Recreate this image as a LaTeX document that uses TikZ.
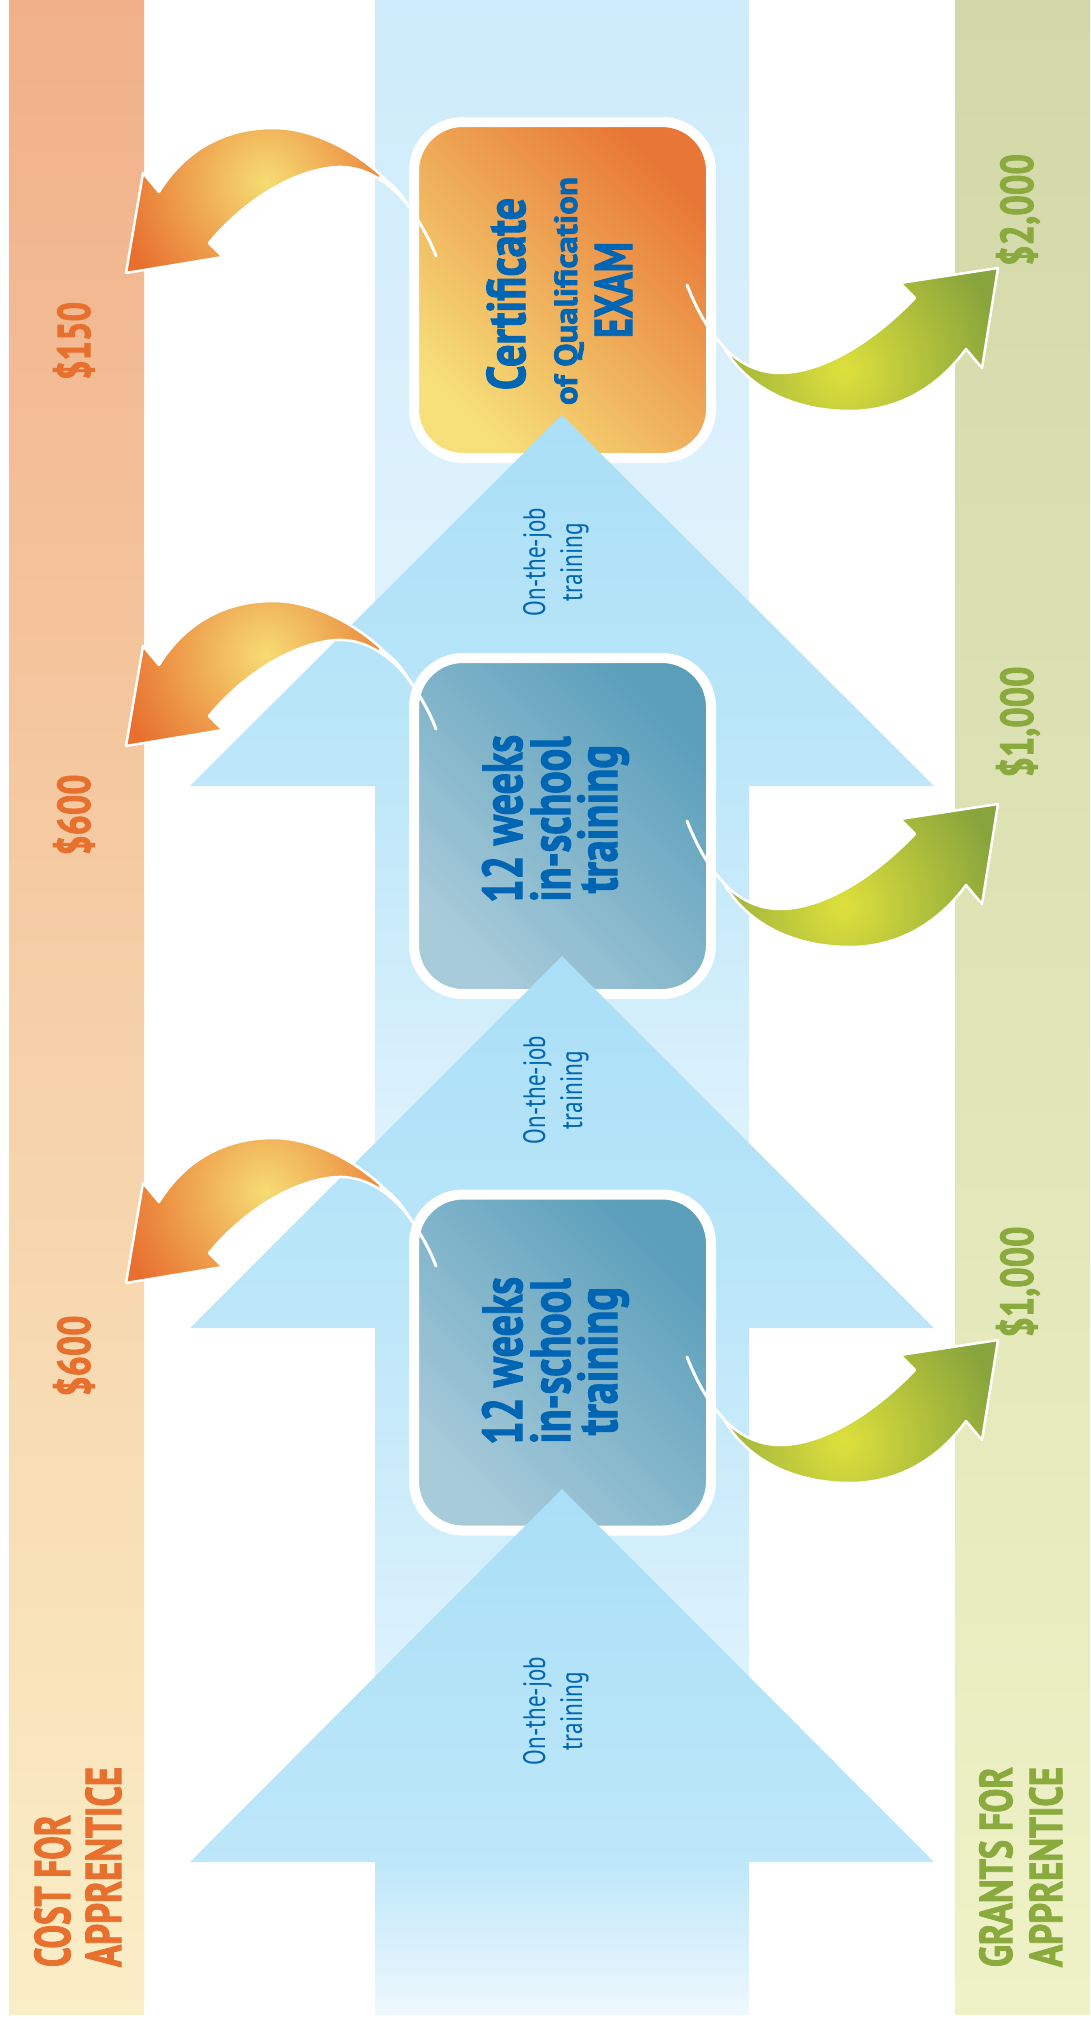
\documentclass[tikz,border=0pt]{standalone}
\usepackage{fontspec}
\usepackage{graphicx}
\newfontfamily\ptsans{PT Sans}[BoldFeatures={FakeBold=2.2}]
\definecolor{lbarTop}{RGB}{241,176,137}
\definecolor{lbarBot}{RGB}{250,238,198}
\definecolor{rbarTop}{RGB}{210,216,168}
\definecolor{rbarBot}{RGB}{238,242,198}
\definecolor{bandTop}{RGB}{205,235,250}
\definecolor{bandBot}{RGB}{230,245,253}
\definecolor{headTop}{RGB}{169,223,247}
\definecolor{headBot}{RGB}{190,231,249}
\definecolor{shaftBot}{RGB}{238,248,254}
\definecolor{exTR}{RGB}{232,118,54}
\definecolor{exBL}{RGB}{246,224,122}
\definecolor{tlTR}{RGB}{90,158,186}
\definecolor{tlBL}{RGB}{168,203,218}
\definecolor{orIn}{RGB}{246,220,115}
\definecolor{orOut}{RGB}{232,112,47}
\definecolor{grIn}{RGB}{222,224,60}
\definecolor{grOut}{RGB}{136,164,60}
\definecolor{blueT}{RGB}{0,101,179}
\definecolor{orT}{RGB}{232,112,47}
\definecolor{grT}{RGB}{139,170,62}
\newcommand{\fitt}[3]{\resizebox{#1pt}{\height}{\fontsize{#2}{#2}\selectfont #3}}
\tikzset{
  lbl/.style={inner sep=0pt, outer sep=0pt, rotate=90, font=\ptsans\bfseries},
  lblreg/.style={inner sep=0pt, outer sep=0pt, rotate=90, font=\ptsans, text=blueT},
  boxbase/.style={draw=white, line width=10pt, rounded corners=49pt,
    minimum width=297pt, minimum height=336pt, inner sep=0pt},
  exambox/.style={boxbase, top color=exTR, bottom color=exBL, shading angle=-45},
  schoolbox/.style={boxbase, top color=tlTR, bottom color=tlBL, shading angle=-45},
  headshade/.style={top color=headTop, bottom color=headBot},
  shaftshade/.style={top color=headBot, bottom color=shaftBot},
  rim/.style={draw=white, line width=2.5pt, line join=round},
  whiteline/.style={draw=white, line width=3pt, line cap=round},
}
\begin{document}
\begin{tikzpicture}[x=1pt,y=-1pt]
\useasboundingbox (0,0) rectangle (1090,2019);
% side bars
\shade[top color=lbarTop, bottom color=lbarBot] (9,0) rectangle (144,2014);
\shade[top color=rbarTop, bottom color=rbarBot] (955,0) rectangle (1090,2014);
% central band (top)
\shade[top color=bandTop, bottom color=bandBot] (375,0) rectangle (749,800);
% box 3
\node[exambox] (exam) at (562.5,290) {};
% arrow 3
\shade[shaftshade] (375,786) rectangle (749,1330);
\shade[headshade] (562,415) -- (934,786) -- (190,786) -- cycle;
% box 2
\node[schoolbox] (school2) at (562.5,826) {};
% arrow 2
\shade[shaftshade] (375,1328) rectangle (749,1864);
\shade[headshade] (562,956) -- (934,1328) -- (190,1328) -- cycle;
% box 1
\node[schoolbox] (school1) at (562.5,1362.5) {};
% arrow 1
\shade[shaftshade] (375,1862) rectangle (749,2014);
\shade[headshade] (562,1489) -- (934,1862) -- (190,1862) -- cycle;

% on-the-job labels
\node[lblreg, anchor=base] (oj3a) at (545,562) {\fitt{108}{31}{On-the-job}};
\node[lblreg, anchor=base] (oj3b) at (582,562) {\fitt{78}{31}{training}};
\node[lblreg, anchor=base] (oj2a) at (545,1090) {\fitt{108}{31}{On-the-job}};
\node[lblreg, anchor=base] (oj2b) at (582,1090) {\fitt{78}{31}{training}};
\node[lblreg, anchor=base] (oj1a) at (545,1711) {\fitt{108}{31}{On-the-job}};
\node[lblreg, anchor=base] (oj1b) at (582,1711) {\fitt{78}{31}{training}};

% box texts
\node[lbl, text=blueT, anchor=base] (ex1) at (525,294) {\fitt{192}{54}{Certificate}};
\node[lbl, text=blueT, anchor=base] (ex2) at (577,291) {\fitt{228}{32}{of Qualification}};
\node[lbl, text=blueT, anchor=base] (ex3) at (632,290) {\fitt{96}{53}{EXAM}};
\node[lbl, text=blueT, anchor=base] (s2a) at (522,819) {\fitt{168}{56}{12 weeks}};
\node[lbl, text=blueT, anchor=base] (s2b) at (570,819) {\fitt{165}{56}{in-school}};
\node[lbl, text=blueT, anchor=base] (s2c) at (617,819) {\fitt{148}{56}{training}};
\node[lbl, text=blueT, anchor=base] (s1a) at (522,1361) {\fitt{168}{56}{12 weeks}};
\node[lbl, text=blueT, anchor=base] (s1b) at (570,1361) {\fitt{165}{56}{in-school}};
\node[lbl, text=blueT, anchor=base] (s1c) at (617,1361) {\fitt{148}{56}{training}};

% orange curved arrows (cost)
\foreach \dy in {0,473,1010} {
  \begin{scope}[shift={(0,\dy)}]
    \begin{scope}
      \clip (126,273) -- (143,173) -- (159,192) .. controls (185,150) and (225,128) .. (273,128)
        .. controls (320,128) and (375,160) .. (407,204)
        .. controls (385,178) and (362,166) .. (337,167)
        .. controls (290,170) and (240,205) .. (209,243) -- (223,257) -- cycle;
      \fill[orOut] (100,100) rectangle (450,300);
      \shade[inner color=orIn, outer color=orOut] (266,182) circle (150);
    \end{scope}
    \path[rim] (126,273) -- (143,173) -- (159,192) .. controls (185,150) and (225,128) .. (273,128)
        .. controls (320,128) and (375,160) .. (407,204)
        .. controls (385,178) and (362,166) .. (337,167)
        .. controls (290,170) and (240,205) .. (209,243) -- (223,257) -- cycle;
    \path[whiteline] (380,176) .. controls (395,186) and (402,196) .. (407,204)
        .. controls (420,222) and (430,240) .. (436,256);
  \end{scope}
}

% green curved arrows (grants)
\foreach \dy in {0,536,1072} {
  \begin{scope}[shift={(0,\dy)}]
    \begin{scope}
      \clip (998,268) -- (982,368) -- (966,349) .. controls (940,385) and (900,411) .. (850,411)
        .. controls (790,411) and (745,385) .. (723,346)
        .. controls (735,360) and (755,373) .. (780,373)
        .. controls (820,373) and (870,345) .. (915,298) -- (900,283) -- cycle;
      \fill[grOut] (700,250) rectangle (1010,420);
      \shade[inner color=grIn, outer color=grOut] (843,370) circle (160);
    \end{scope}
    \path[rim] (998,268) -- (982,368) -- (966,349) .. controls (940,385) and (900,411) .. (850,411)
        .. controls (790,411) and (745,385) .. (723,346)
        .. controls (735,360) and (755,373) .. (780,373)
        .. controls (820,373) and (870,345) .. (915,298) -- (900,283) -- cycle;
    \path[whiteline] (687,285) .. controls (697,310) and (708,330) .. (723,346);
  \end{scope}
}

% amounts
\node[lbl, text=orT, anchor=base] (c150) at (90,341) {\fitt{78}{46}{\$150}};
\node[lbl, text=orT, anchor=base] (c600a) at (90,815) {\fitt{81}{46}{\$600}};
\node[lbl, text=orT, anchor=base] (c600b) at (90,1356) {\fitt{81}{46}{\$600}};
\node[lbl, text=grT, anchor=base] (g2000) at (1033,210) {\fitt{112}{46}{\$2,000}};
\node[lbl, text=grT, anchor=base] (g1000a) at (1033,722) {\fitt{111}{46}{\$1,000}};
\node[lbl, text=grT, anchor=base] (g1000b) at (1033,1282) {\fitt{111}{46}{\$1,000}};
% bar titles
\node[lbl, text=orT, anchor=base west] (cost1) at (70,1967) {\fitt{152}{50}{COST FOR}};
\node[lbl, text=orT, anchor=base west] (cost2) at (121,1967) {\fitt{200}{50}{APPRENTICE}};
\node[lbl, text=grT, anchor=base west] (gr1) at (1012,1967) {\fitt{200}{46}{GRANTS FOR}};
\node[lbl, text=grT, anchor=base west] (gr2) at (1062,1967) {\fitt{200}{46}{APPRENTICE}};
\end{tikzpicture}
\end{document}
